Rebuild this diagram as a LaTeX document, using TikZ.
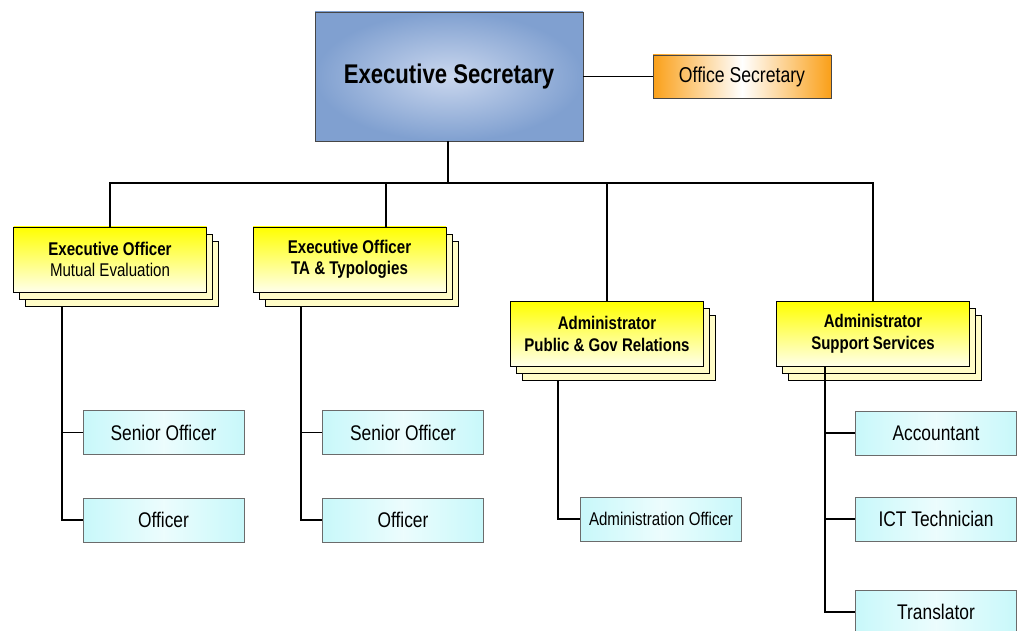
\documentclass[tikz,border=0pt]{standalone}
\usepackage{fontspec}
\setmainfont{Liberation Sans}[FakeStretch=0.82]
\usetikzlibrary{shadows}

\definecolor{esblue}{RGB}{128,160,208}
\definecolor{eslight}{RGB}{202,215,238}
\definecolor{osorange}{RGB}{250,160,25}
\definecolor{leafcyan}{RGB}{200,248,250}
\definecolor{edge}{RGB}{70,70,70}

\tikzset{
	headbox/.style={draw=edge, minimum width=268pt, minimum height=129pt, inner color=eslight, outer color=esblue,
		font=\fontsize{27}{32}\selectfont\bfseries},
	officebox/.style={draw=edge, minimum width=178pt, minimum height=43pt, left color=osorange, right color=osorange, middle color=white,
		font=\fontsize{21.5}{25}\selectfont},
	stackbox/.style={draw=black, minimum width=193pt, minimum height=65pt, align=center,
		top color=yellow, bottom color=yellow!8, font=\fontsize{18.4}{21.5}\selectfont,
		double copy shadow={shadow xshift=6pt, shadow yshift=-7pt, fill=yellow!22, draw=black}},
	leafbox/.style={draw=edge!80, minimum width=161pt, minimum height=44pt, left color=leafcyan, right color=leafcyan, middle color=leafcyan!35,
		font=\fontsize{21.2}{25}\selectfont},
	wire/.style={line width=1.1pt}
}

\begin{document}
\begin{tikzpicture}[x=1pt,y=-1pt]
	\useasboundingbox (0,0) rectangle (1021,631);
	\begin{scope}
	\clip (0,0) rectangle (1021,631);
	% top
	\node[headbox] (es) at (449,76.5) {Executive Secretary};
	\node[officebox] (os) at (742,76.5) {Office Secretary};
	% second row
	\node[stackbox] (eo1) at (110,259.5) {\textbf{Executive Officer}\\Mutual Evaluation};
	\node[stackbox, font=\fontsize{18.4}{21.5}\selectfont\bfseries] (eo2) at (349.5,259.5) {Executive Officer\\TA \& Typologies};
	\node[stackbox, font=\fontsize{18.3}{22}\selectfont\bfseries] (ad1) at (607,334) {Administrator\\Public \& Gov Relations};
	\node[stackbox, font=\fontsize{18.3}{22}\selectfont\bfseries] (ad2) at (873,334) {Administrator\\Support Services};
	% staff
	\node[leafbox] (so1) at (163.5,432.5) {Senior Officer};
	\node[leafbox] (of1) at (163.5,520) {Officer};
	\node[leafbox] (so2) at (403,432.5) {Senior Officer};
	\node[leafbox] (of2) at (403,520) {Officer};
	\node[leafbox, font=\fontsize{18.4}{22}\selectfont] (ao) at (661,519) {Administration Officer};
	\node[leafbox] (acc) at (936,433) {Accountant};
	\node[leafbox] (ict) at (936,519) {ICT Technician};
	\node[leafbox] (tr) at (936,612) {Translator};
	% connectors
	\coordinate (bus) at (448,183);
	\draw[line width=2.6pt] ([xshift=-1pt]es.south) -- (bus);
	\draw[wire] (es.east) -- (os.west);
	\draw[wire] (eo1.north) |- (bus) -| (ad2.north);
	\draw[wire] ([xshift=36.5pt]eo2.north) -- ([xshift=36.5pt]eo2.north |- bus);
	\draw[wire] (ad1.north) -- (ad1.north |- bus);
	\coordinate (t1) at ([xshift=-48pt,yshift=-14pt]eo1.south);
	\draw[wire] (t1) |- (of1.west);
	\draw[wire] (t1 |- so1.west) -- (so1.west);
	\coordinate (t2) at ([xshift=-48.5pt,yshift=-14pt]eo2.south);
	\draw[wire] (t2) |- (of2.west);
	\draw[wire] (t2 |- so2.west) -- (so2.west);
	\coordinate (t3) at ([xshift=-49pt,yshift=-14pt]ad1.south);
	\draw[wire] (t3) |- (ao.west);
	\coordinate (t4) at ([xshift=-48pt]ad2.south);
	\draw[wire] (t4) |- (tr.west);
	\draw[wire] (t4 |- acc.west) -- (acc.west);
	\draw[wire] (t4 |- ict.west) -- (ict.west);
	\end{scope}
\end{tikzpicture}
\end{document}
